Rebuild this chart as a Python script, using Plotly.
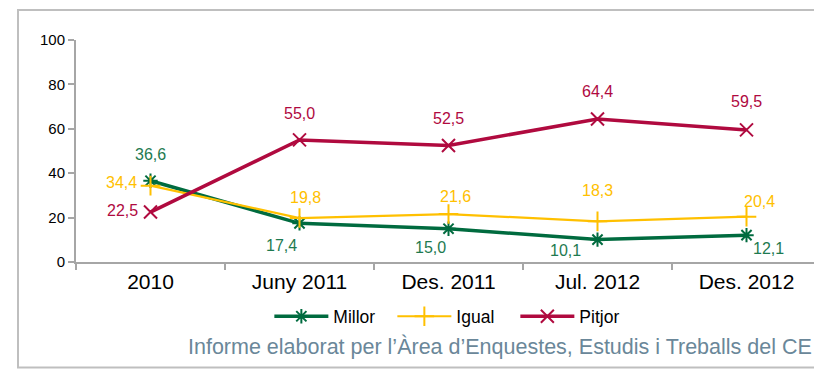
import plotly.graph_objects as go

# Survey periods and percentages per answer
periods = ["2010", "Juny 2011", "Des. 2011", "Jul. 2012", "Des. 2012"]
millor = [36.6, 17.4, 15.0, 10.1, 12.1]
igual = [34.4, 19.8, 21.6, 18.3, 20.4]
pitjor = [22.5, 55.0, 52.5, 64.4, 59.5]
y_ticks = [0, 20, 40, 60, 80, 100]
source_note = "Informe elaborat per l\u2019\u00c0rea d\u2019Enquestes, Estudis i Treballs del CE"

GREEN = "#006B3F"
GREEN_TXT = "#1E7A50"
YELLOW = "#FFC000"
RED = "#B00A3F"
FONT = "Arial"

xs = list(range(len(periods)))

fig = go.Figure()
series = [
    ("Millor", millor, GREEN, 3.5, "asterisk-open", 12),
    ("Igual", igual, YELLOW, 2.2, "cross-thin-open", 14),
    ("Pitjor", pitjor, RED, 3.5, "x-thin-open", 13),
]
for name, vals, color, w, sym, size in series:
    fig.add_trace(go.Scatter(
        x=xs, y=vals, name=name, mode="lines+markers",
        line=dict(color=color, width=w),
        marker=dict(symbol=sym, size=size, color=color,
                    line=dict(color=color, width=2)),
    ))

# Data label offsets (pixels) for each series
offsets = {
    "Millor": [(0, 26), (-18, -22), (-18, -19), (-32, -11), (22, -13)],
    "Igual": [(-29, 3), (6, 21), (7, 18), (0, 31), (13, 15)],
    "Pitjor": [(-28, 2), (0, 26), (0, 27), (0, 28), (0, 28)],
}
label_colors = {"Millor": GREEN_TXT, "Igual": YELLOW, "Pitjor": RED}
for name, vals, *_ in series:
    for i, v in enumerate(vals):
        dx, dy = offsets[name][i]
        fig.add_annotation(
            x=xs[i], y=v, xref="x", yref="y",
            text=f"{v:.1f}".replace(".", ","),
            showarrow=False, xshift=dx, yshift=dy,
            font=dict(family=FONT, size=16, color=label_colors[name]),
        )

# Source note
fig.add_annotation(
    x=1.0, y=-0.38, xref="paper", yref="paper", xanchor="right", yanchor="middle",
    text=source_note, showarrow=False,
    font=dict(family=FONT, size=21.5, color="#6A8799"),
)

# Outer frame
fig.add_shape(
    type="rect", xref="paper", yref="paper",
    x0=-0.0786, x1=1.02, y0=-0.475, y1=1.135,
    line=dict(color="#BFBFBF", width=2), fillcolor="rgba(0,0,0,0)", layer="below",
)

fig.update_layout(
    width=814, height=369,
    margin=dict(l=76, r=0, t=40, b=107, autoexpand=False),
    paper_bgcolor="white", plot_bgcolor="white",
    font=dict(family=FONT, color="black"),
    showlegend=True,
    legend=dict(
        orientation="h", x=0.262, xanchor="left", y=-0.245, yanchor="middle",
        font=dict(family=FONT, size=17.5, color="black"),
        itemwidth=54, entrywidth=54, entrywidthmode="pixels",
        tracegroupgap=0, bgcolor="rgba(0,0,0,0)",
    ),
    xaxis=dict(
        range=[-0.5, 4.453], tickmode="array", tickvals=xs, ticktext=periods,
        ticks="", showgrid=False, zeroline=False,
        showline=True, linecolor="#A6A6A6", linewidth=2,
        tickfont=dict(family=FONT, size=21, color="black"),
        minor=dict(tickmode="array", tickvals=[-0.5, 0.5, 1.5, 2.5, 3.5],
                   ticks="outside", ticklen=6, tickwidth=2, tickcolor="#A6A6A6",
                   showgrid=False),
        fixedrange=True,
    ),
    yaxis=dict(
        range=[0, 100], tickmode="array", tickvals=y_ticks,
        ticks="outside", ticklen=6, tickwidth=2, tickcolor="#A6A6A6",
        showgrid=False, zeroline=False,
        showline=True, linecolor="#A6A6A6", linewidth=2,
        tickfont=dict(family=FONT, size=15, color="black"),
        fixedrange=True,
    ),
)

fig.write_html("out.html")
